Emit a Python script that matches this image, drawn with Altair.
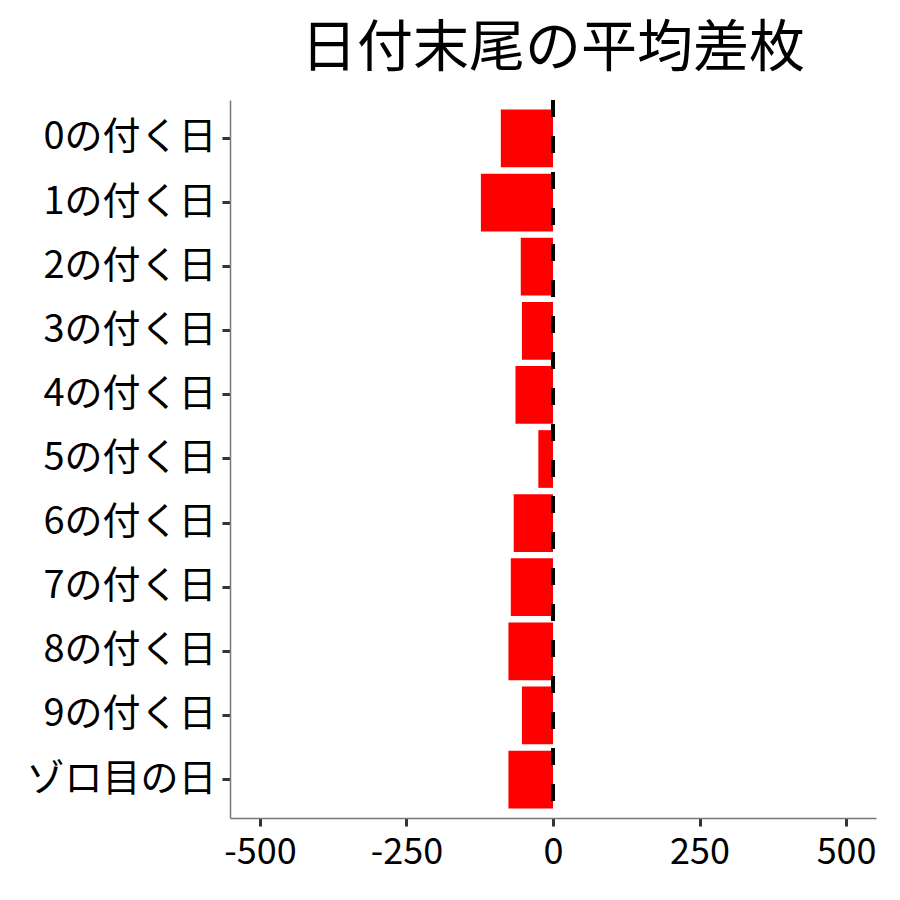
import altair as alt
import pandas as pd

categories = ["0の付く日", "1の付く日", "2の付く日", "3の付く日", "4の付く日",
              "5の付く日", "6の付く日", "7の付く日", "8の付く日", "9の付く日", "ゾロ目の日"]
values = [-89, -123, -55, -53, -64, -25, -67, -72, -76, -53, -76]
x_ticks = [-500, -250, 0, 250, 500]

df = pd.DataFrame({"day": categories, "diff": values})
FONT = "Noto Sans CJK JP"

bars = alt.Chart(df).mark_bar(color="#FF0000").encode(
    y=alt.Y("day:N", sort=categories,
            scale=alt.Scale(paddingInner=0.1, paddingOuter=0.15),
            axis=alt.Axis(title=None, labelFont=FONT, labelFontSize=38, labelColor="black",
                          labelLimit=400,
                          tickColor="#333333", tickSize=8, tickWidth=3,
                          domainColor="#777777", domainWidth=1.5, labelPadding=6)),
    x=alt.X("diff:Q", scale=alt.Scale(domain=[-551, 551], nice=False),
            axis=alt.Axis(title=None, values=x_ticks, labelFont=FONT, labelFontSize=36,
                          labelExpr="toString(datum.value)",
                          labelColor="black", tickColor="#333333", tickSize=8, tickWidth=3,
                          domainColor="#777777", domainWidth=1.5, grid=False, labelPadding=9)),
)

zero = alt.Chart(pd.DataFrame({"z": [0]})).mark_rule(
    color="black", strokeWidth=4, strokeDash=[17, 19]
).encode(x="z:Q")

chart = (bars + zero).properties(
    width=646, height=718,
    title=alt.TitleParams("日付末尾の平均差枚", font=FONT, fontSize=56, fontWeight="normal",
                          color="black", anchor="middle", offset=20),
    padding={"left": 222, "top": 92, "right": 10, "bottom": 60},
    autosize=alt.AutoSizeParams(type="none"),
    background="white",
).configure_view(strokeWidth=0, stroke=None)

chart.save("out.html", embed_options={"renderer": "svg", "actions": False})
